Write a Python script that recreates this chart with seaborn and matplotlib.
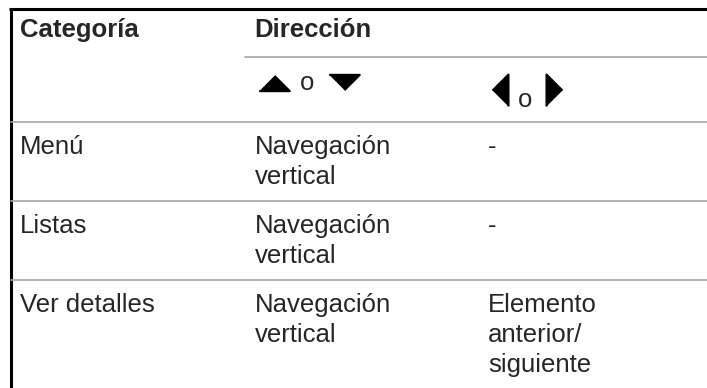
import matplotlib
matplotlib.use("Agg")
import matplotlib.pyplot as plt
import seaborn as sns
import pandas as pd

sns.set_theme(style="white")
plt.rcParams['font.family'] = ['Liberation Sans', 'DejaVu Sans']

# Table content
headers = ["Categoría", "Dirección"]
categories = ["Menú", "Listas", "Ver detalles"]
vertical_action = ["Navegación\nvertical", "Navegación\nvertical", "Navegación\nvertical"]
horizontal_action = ["-", "-", "Elemento\nanterior/\nsiguiente"]

df = pd.DataFrame({"cat": categories, "vert": vertical_action, "horiz": horizontal_action})

# layout (pixels)
W, H = 707, 388
col_x = [20, 255, 488]
row_top = [122, 201, 280]
first_base = 32
line_gap = 30
fs = 18.5
grey = "#a6a6a6"

fig = plt.figure(figsize=(W / 100, H / 100), dpi=100)
ax = fig.add_axes([0, 0, 1, 1])
ax.set_xlim(0, W)
ax.set_ylim(H, 0)
ax.axis("off")

# borders
ax.plot([9, W], [9, 9], color="black", lw=2.2, solid_capstyle="butt")
ax.plot([10.5, 10.5], [8, H], color="black", lw=2.2, solid_capstyle="butt")
ax.plot([245, W], [57, 57], color=grey, lw=1.2)
for y in row_top:
    ax.plot([11, W], [y, y], color=grey, lw=1.2)

# header
ax.text(col_x[0], 37, headers[0], fontsize=fs, fontweight="bold", va="baseline")
ax.text(col_x[1] - 1, 37, headers[1], fontsize=fs, fontweight="bold", va="baseline")

# arrow icons row
up = [(-1, -0.5), (1, -0.5), (0, 0.5)]
down = [(-1, 0.5), (1, 0.5), (0, -0.5)]
left = [(0.5, -1), (0.5, 1), (-0.5, 0)]
right = [(-0.5, -1), (-0.5, 1), (0.5, 0)]
kw = dict(color="black", edgecolor="black", linewidths=1.5, joinstyle="round", zorder=3)
ax.scatter([273.5], [82.5], marker=up, s=22 ** 2, **kw)
ax.scatter([343.5], [82], marker=down, s=22 ** 2, **kw)
ax.text(307.5, 90, "o", fontsize=fs, ha="center", va="baseline")
ax.scatter([499.5], [90], marker=left, s=23 ** 2, **kw)
ax.scatter([553.5], [90], marker=right, s=23 ** 2, **kw)
ax.text(525.5, 107, "o", fontsize=fs, ha="center", va="baseline")

# body rows
for i, row in df.iterrows():
    base = row_top[i] + first_base
    for j, key in enumerate(["cat", "vert", "horiz"]):
        for k, line in enumerate(row[key].split("\n")):
            ax.text(col_x[j], base + k * line_gap, line, fontsize=fs, va="baseline")

fig.savefig("out.png", dpi=100)
